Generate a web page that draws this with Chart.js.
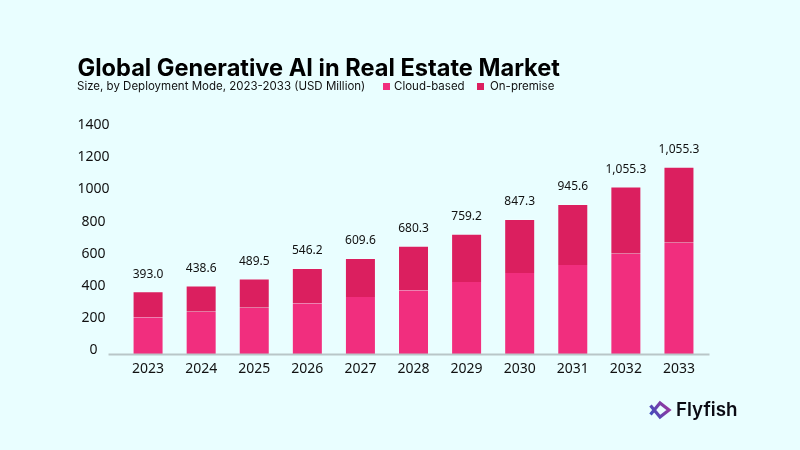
<!DOCTYPE html>
<html lang="en">
<head>
  <meta charset="UTF-8">
  <title>Global Generative AI in Real Estate Market</title>
  <script src="https://cdn.jsdelivr.net/npm/chart.js"></script>
  <style>
    html, body {
      margin: 0;
      padding: 0;
      background-color: #e9feff;
      font-family: Inter, sans-serif;
      color: #000;
    }
    #wrap {
      position: relative;
      width: 800px;
      height: 450px;
      overflow: hidden;
    }
    #wrap canvas { position: absolute; left: 0; top: 0; }
    h1 {
      position: absolute;
      left: 77.5px;
      top: 52px;
      margin: 0;
      font-size: 23.6px;
      line-height: 32px;
      font-weight: 700;
      white-space: nowrap;
    }
    #sub {
      position: absolute;
      left: 77px;
      top: 78px;
      font-size: 11.5px;
      line-height: 16px;
      color: #111;
      white-space: nowrap;
    }
    .leg {
      position: absolute;
      top: 78px;
      font-size: 11.5px;
      line-height: 16px;
      color: #111;
      white-space: nowrap;
    }
    .swatch {
      position: absolute;
      top: 83px;
      width: 7px;
      height: 7px;
    }
    #logo { position: absolute; left: 648px; top: 400px; }
    #brand {
      position: absolute;
      left: 676px;
      top: 397px;
      font-size: 18.8px;
      line-height: 26px;
      font-weight: 600;
      color: #0b0b14;
    }
  </style>
</head>
<body>
  <div id="wrap">
    <canvas id="myChart" width="800" height="450"></canvas>
    <h1>Global Generative AI in Real Estate Market</h1>
    <div id="sub">Size, by Deployment Mode, 2023-2033 (USD Million)</div>
    <div class="swatch" style="left:383px;background:#f12e7e"></div>
    <div class="leg" style="left:394px">Cloud-based</div>
    <div class="swatch" style="left:477px;background:#db1f5f"></div>
    <div class="leg" style="left:490px">On-premise</div>
    <svg id="logo" width="24" height="20" viewBox="0 0 24 20">
      <defs>
        <linearGradient id="lg" gradientUnits="userSpaceOnUse" x1="2" y1="16" x2="22" y2="4">
          <stop offset="0" stop-color="#3a4fc0"/>
          <stop offset="1" stop-color="#a2349a"/>
        </linearGradient>
      </defs>
      <path d="M2.5 5.5 L12 17 L21 10 L12 3 L2.5 14.5" fill="none" stroke="url(#lg)" stroke-width="3.2"/>
    </svg>
    <div id="brand">Flyfish</div>
  </div>

  <script>
    // Values
    const years = ['2023', '2024', '2025', '2026', '2027', '2028', '2029', '2030', '2031', '2032', '2033'];
    const cloudBased = [232, 267, 292, 321, 359, 403, 454, 511, 562, 632, 702];
    const onPremise = [164, 165, 184, 222, 247, 281, 305, 341, 385, 425, 480];
    const totalLabels = ['393.0', '438.6', '489.5', '546.2', '609.6', '680.3', '759.2', '847.3', '945.6', '1,055.3', '1,055.3'];
    const yTicks = [0, 200, 400, 600, 800, 1000, 1200, 1400];

    // Total above every stack
    const totalsPlugin = {
      id: 'totals',
      afterDatasetsDraw(chart) {
        const c = chart.ctx;
        const top = chart.getDatasetMeta(1).data;
        c.save();
        c.font = '12px "Noto Sans", sans-serif';
        c.fillStyle = '#111';
        c.textAlign = 'center';
        c.textBaseline = 'middle';
        top.forEach((bar, i) => c.fillText(totalLabels[i], bar.x, bar.y - 17));
        c.restore();
      }
    };

    // Axis line runs a bit wider than the category band
    const baselinePlugin = {
      id: 'baseline',
      afterDatasetsDraw(chart) {
        const c = chart.ctx;
        const area = chart.chartArea;
        c.save();
        c.strokeStyle = '#b9c6c8';
        c.lineWidth = 2;
        c.beginPath();
        c.moveTo(area.left - 13, area.bottom + 0.5);
        c.lineTo(area.right + 4, area.bottom + 0.5);
        c.stroke();
        c.restore();
      }
    };

    new Chart(document.getElementById('myChart'), {
      type: 'bar',
      data: {
        labels: years,
        datasets: [
          {
            label: 'Cloud-based',
            data: cloudBased,
            backgroundColor: '#f12e7e',
            borderColor: 'rgba(255,255,255,0.25)',
            borderWidth: { left: 1, right: 1, top: 0, bottom: 0 }
          },
          {
            label: 'On-premise',
            data: onPremise,
            backgroundColor: '#db1f5f',
            borderColor: 'rgba(255,255,255,0.25)',
            borderWidth: { left: 1, right: 1, top: 1, bottom: 0 }
          }
        ]
      },
      options: {
        responsive: false,
        animation: false,
        maintainAspectRatio: false,
        categoryPercentage: 0.584,
        barPercentage: 1,
        layout: { padding: { left: 65.5, right: 94.5, top: 110, bottom: 66.2 } },
        plugins: { legend: { display: false }, tooltip: { enabled: false } },
        scales: {
          x: {
            stacked: true,
            grid: { display: false, drawTicks: false },
            border: { display: false },
            ticks: { color: '#111', font: { family: 'Noto Sans', size: 14 }, padding: 6.5, maxRotation: 0 }
          },
          y: {
            stacked: true,
            display: false,
            min: 0,
            max: 1540
          },
          // The printed tick labels sit on their own slightly different scale
          yLabels: {
            position: 'left',
            min: -22,
            max: 1493,
            grid: { display: false, drawTicks: false },
            border: { display: false },
            afterBuildTicks(scale) { scale.ticks = yTicks.map(v => ({ value: v })); },
            ticks: { color: '#111', font: { family: 'Noto Sans', size: 14 }, padding: 12, crossAlign: 'center', callback: v => String(v) }
          }
        }
      },
      plugins: [totalsPlugin, baselinePlugin]
    });
  </script>
</body>
</html>
